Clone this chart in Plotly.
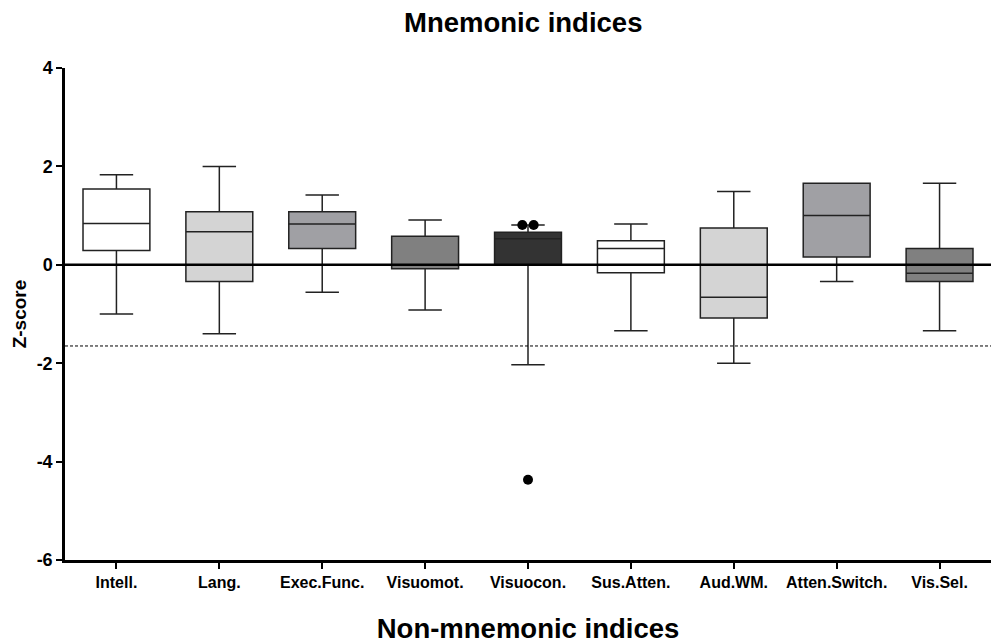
import plotly.graph_objects as go

# Domain categories (x axis)
categories = ["Intell.", "Lang.", "Exec.Func.", "Visuomot.", "Visuocon.",
              "Sus.Atten.", "Aud.WM.", "Atten.Switch.", "Vis.Sel."]

# Box summary statistics (z-scores)
q1 = [0.29, -0.34, 0.33, -0.08, 0.00, -0.16, -1.08, 0.16, -0.34]
median = [0.84, 0.67, 0.83, 0.00, 0.53, 0.33, -0.66, 1.00, -0.17]
q3 = [1.54, 1.08, 1.08, 0.58, 0.66, 0.49, 0.75, 1.66, 0.33]
lower_whisker = [-1.00, -1.40, -0.56, -0.92, -2.03, -1.34, -2.00, -0.34, -1.34]
upper_whisker = [1.83, 2.00, 1.42, 0.91, 0.81, 0.83, 1.49, 1.66, 1.66]

fill_colors = ["#ffffff", "#d4d4d4", "#a0a0a4", "#808080", "#333333",
               "#ffffff", "#d4d4d4", "#a0a0a4", "#808080"]

# Outlying observations: (category index, offset within the box, value)
outlier_cat = [4, 4, 4]
outlier_offset = [-0.055, 0.055, 0.0]
outlier_val = [0.81, 0.81, -4.37]

# Cut-off for impairment
cutoff = -1.65

fig = go.Figure()

for i, cat in enumerate(categories):
    fig.add_trace(go.Box(
        x=[i], q1=[q1[i]], median=[median[i]], q3=[q3[i]],
        lowerfence=[lower_whisker[i]], upperfence=[upper_whisker[i]],
        width=0.65, whiskerwidth=0.5,
        fillcolor=fill_colors[i],
        line=dict(color="#222222", width=1.5),
        boxpoints=False, name=cat, showlegend=False, hoverinfo="skip",
    ))

fig.add_trace(go.Scatter(
    x=[c + o for c, o in zip(outlier_cat, outlier_offset)], y=outlier_val,
    mode="markers", marker=dict(color="black", size=10),
    showlegend=False, hoverinfo="skip",
))

fig.add_shape(type="line", xref="paper", x0=0, x1=1, yref="y", y0=0, y1=0,
              line=dict(color="black", width=2.5), layer="above")
fig.add_shape(type="line", xref="paper", x0=0, x1=1, yref="y", y0=cutoff, y1=cutoff,
              line=dict(color="black", width=1, dash="3px,2px"), layer="above")

fig.update_layout(
    width=991, height=644,
    margin=dict(l=65, r=0, t=68, b=84),
    paper_bgcolor="white", plot_bgcolor="white",
    title=dict(text="<b>Mnemonic indices</b>", x=0.528, xanchor="center",
               y=0.965, yanchor="middle",
               font=dict(family="Liberation Sans", size=27.5, color="black")),
    xaxis=dict(
        range=[-0.5, 8.5], tickmode="array",
        tickvals=list(range(len(categories))),
        ticktext=[f"<b>{c}</b>" for c in categories],
        tickfont=dict(family="Liberation Sans", size=16, color="black"),
        ticks="outside", ticklen=6, tickwidth=1.5, tickcolor="black",
        showline=True, linecolor="black", linewidth=2.5,
        showgrid=False, zeroline=False,
        title=dict(text="<b>Non-mnemonic indices</b>", standoff=29,
                   font=dict(family="Liberation Sans", size=27.5, color="black")),
    ),
    yaxis=dict(
        range=[-6, 4], tickvals=[-6, -4, -2, 0, 2, 4],
        ticktext=["<b>-6</b>", "<b>-4</b>", "<b>-2</b>", "<b>0</b>", "<b>2</b>", "<b>4</b>"],
        tickfont=dict(family="Liberation Sans", size=18, color="black"),
        ticks="outside", ticklen=6, tickwidth=1.5, tickcolor="black",
        showline=True, linecolor="black", linewidth=2.5,
        showgrid=False, zeroline=False,
        title=dict(text="<b>Z-score</b>", standoff=5,
                   font=dict(family="Liberation Sans", size=19, color="black")),
    ),
)

fig.write_html("out.html")
